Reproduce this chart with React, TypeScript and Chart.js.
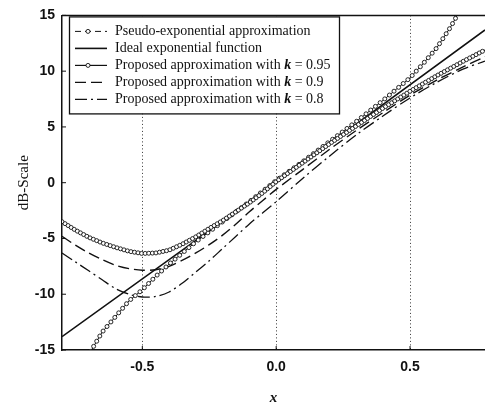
import React, { useEffect, useRef } from "react";
import { Chart, registerables } from "chart.js";

Chart.register(...registerables);

// ---- data ----
const xGrid = [-0.8, -0.75, -0.7, -0.65, -0.6, -0.55, -0.5, -0.45, -0.4, -0.35, -0.3, -0.25, -0.2, -0.15, -0.1, -0.05, 0, 0.1, 0.2, 0.3, 0.4, 0.5, 0.6, 0.7, 0.78];
const k95 = [-3.5, -4.25, -4.9, -5.4, -5.8, -6.15, -6.35, -6.3, -6.05, -5.5, -4.85, -4.1, -3.4, -2.6, -1.8, -0.9, 0.1, 1.8, 3.5, 5.1, 6.7, 8.2, 9.6, 10.9, 11.9];
const k90 = [-4.8, -5.6, -6.3, -6.9, -7.4, -7.7, -7.85, -7.8, -7.5, -6.95, -6.3, -5.55, -4.7, -3.7, -2.6, -1.6, -0.6, 1.2, 3.0, 4.7, 6.3, 7.85, 9.2, 10.4, 11.3];
const k80 = [-6.3, -7.1, -7.9, -8.7, -9.5, -10.0, -10.25, -10.2, -9.8, -9.0, -8.0, -7.0, -5.9, -4.8, -3.7, -2.7, -1.7, 0.4, 2.4, 4.3, 6.0, 7.6, 9.0, 10.2, 10.9];

const xPseudo = [-0.72, -0.69, -0.65, -0.6, -0.55, -0.5, -0.45, -0.4, -0.35, -0.3, -0.2, -0.1, 0, 0.1, 0.2, 0.3, 0.4, 0.45, 0.5, 0.55, 0.6, 0.65, 0.7];
const yPseudo = [-16, -15, -13.4, -12.0, -10.6, -9.6, -8.4, -7.3, -6.3, -5.3, -3.5, -1.7, 0.2, 1.9, 3.7, 5.5, 7.4, 8.4, 9.4, 10.7, 12.1, 13.9, 16];

const xIdeal = [-0.8, 0, 0.78];
const yIdeal = [-13.8, 0, 13.7];

const xTicks = [-0.5, 0, 0.5];
const yMin = -15;
const yMax = 15;
const yStep = 5;
const xMin = -0.8;
const xMax = 0.78;

const labels = [
  "Pseudo-exponential approximation",
  "Ideal exponential function",
  "Proposed approximation with k = 0.95",
  "Proposed approximation with k = 0.9",
  "Proposed approximation with k = 0.8",
];

const pts = (xs: number[], ys: number[]) => xs.map((x, i) => ({ x, y: ys[i] }));

const INK = "#111";
const SERIF = "'Liberation Serif', 'Times New Roman', serif";
const SANS = "'Liberation Sans', Arial, sans-serif";

function drawCircle(ctx: CanvasRenderingContext2D, x: number, y: number, r: number) {
  ctx.beginPath();
  ctx.arc(x, y, r, 0, Math.PI * 2);
  ctx.fillStyle = "#fff";
  ctx.fill();
  ctx.stroke();
}

const gridPlugin = {
  id: "dottedGrid",
  beforeDatasetsDraw(chart: any) {
    const ctx = chart.ctx as CanvasRenderingContext2D;
    const a = chart.chartArea;
    const xs = chart.scales.x;
    ctx.save();
    ctx.strokeStyle = "#333";
    ctx.lineWidth = 1;
    ctx.setLineDash([1, 2.5]);
    xs.ticks.forEach((t: any) => {
      const px = Math.round(xs.getPixelForValue(t.value)) + 0.5;
      ctx.beginPath();
      ctx.moveTo(px, a.top);
      ctx.lineTo(px, a.bottom);
      ctx.stroke();
    });
    ctx.restore();
  },
};

const markerPlugin = {
  id: "denseMarkers",
  afterDatasetsDraw(chart: any) {
    const ctx = chart.ctx as CanvasRenderingContext2D;
    const a = chart.chartArea;
    ctx.save();
    ctx.beginPath();
    ctx.rect(a.left, a.top, a.right - a.left, a.bottom - a.top);
    ctx.clip();
    chart.data.datasets.forEach((ds: any, i: number) => {
      const spacing = ds.markerSpacing;
      if (!spacing) return;
      const els = chart.getDatasetMeta(i).data;
      ctx.lineWidth = 0.9;
      ctx.strokeStyle = INK;
      let carry = 0;
      for (let j = 0; j < els.length - 1; j++) {
        const p = els[j];
        const q = els[j + 1];
        const dx = q.x - p.x;
        const dy = q.y - p.y;
        const len = Math.hypot(dx, dy);
        let t = carry;
        while (t <= len) {
          drawCircle(ctx, p.x + (dx * t) / len, p.y + (dy * t) / len, ds.markerRadius || 2);
          t += spacing;
        }
        carry = t - len;
      }
    });
    ctx.restore();
  },
};

const framePlugin = {
  id: "frameLegend",
  afterDraw(chart: any) {
    const ctx = chart.ctx as CanvasRenderingContext2D;
    const a = chart.chartArea;
    ctx.save();
    // top frame line
    ctx.strokeStyle = INK;
    ctx.lineWidth = 1.5;
    ctx.beginPath();
    ctx.moveTo(a.left, a.top);
    ctx.lineTo(a.right, a.top);
    ctx.stroke();
    // inner tick marks
    ctx.lineWidth = 1;
    const ys = chart.scales.y;
    ys.ticks.forEach((t: any) => {
      const py = ys.getPixelForValue(t.value);
      ctx.beginPath();
      ctx.moveTo(a.left, py);
      ctx.lineTo(a.left + 4, py);
      ctx.stroke();
    });
    const xs = chart.scales.x;
    xs.ticks.forEach((t: any) => {
      const px = xs.getPixelForValue(t.value);
      ctx.beginPath();
      ctx.moveTo(px, a.bottom);
      ctx.lineTo(px, a.bottom - 4);
      ctx.stroke();
    });

    // legend box
    const bx = a.left + 7;
    const by = a.top + 1;
    const bw = 270;
    const bh = 97;
    ctx.fillStyle = "#fff";
    ctx.fillRect(bx, by, bw, bh);
    ctx.lineWidth = 1.3;
    ctx.strokeStyle = INK;
    ctx.strokeRect(bx + 0.5, by + 0.5, bw, bh);

    const rowH = 17;
    chart.data.datasets.forEach((ds: any, i: number) => {
      const cy = by + 15 + i * rowH;
      const x0 = bx + 6;
      const x1 = bx + 38;
      ctx.save();
      ctx.strokeStyle = INK;
      ctx.lineWidth = ds.borderWidth;
      ctx.setLineDash(ds.legendDash || ds.borderDash || []);
      ctx.beginPath();
      ctx.moveTo(x0, cy);
      ctx.lineTo(x1, cy);
      ctx.stroke();
      ctx.setLineDash([]);
      if (ds.markerSpacing) {
        ctx.lineWidth = 0.9;
        drawCircle(ctx, (x0 + x1) / 2 - 3, cy, ds.markerRadius || 2);
      }
      ctx.restore();

      // text
      const text: string = ds.label;
      const tx = bx + 46;
      ctx.fillStyle = INK;
      ctx.textBaseline = "middle";
      ctx.textAlign = "left";
      const m = text.match(/^(.*with )k( = .*)$/);
      const normal = `14px ${SERIF}`;
      if (m) {
        ctx.font = normal;
        ctx.fillText(m[1], tx, cy);
        let w = ctx.measureText(m[1]).width;
        ctx.font = `italic bold 14px ${SERIF}`;
        ctx.fillText("k", tx + w, cy);
        w += ctx.measureText("k").width;
        ctx.font = normal;
        ctx.fillText(m[2], tx + w, cy);
      } else {
        ctx.font = normal;
        ctx.fillText(text, tx, cy);
      }
    });
    ctx.restore();
  },
};

export default function App() {
  const ref = useRef<HTMLCanvasElement | null>(null);

  useEffect(() => {
    document.body.style.margin = "0";
    const canvas = ref.current;
    if (!canvas) return;
    const chart = new Chart(canvas, {
      type: "line",
      data: {
        datasets: [
          {
            label: labels[0],
            data: pts(xPseudo, yPseudo),
            borderColor: INK,
            borderWidth: 1,
            pointRadius: 0,
            tension: 0,
            markerSpacing: 6,
            markerRadius: 2,
            legendDash: [6, 4],
          } as any,
          {
            label: labels[1],
            data: pts(xIdeal, yIdeal),
            borderColor: INK,
            borderWidth: 1.6,
            pointRadius: 0,
            tension: 0,
          },
          {
            label: labels[2],
            data: pts(xGrid, k95),
            borderColor: INK,
            borderWidth: 1.2,
            pointRadius: 0,
            tension: 0,
            markerSpacing: 3.6,
            markerRadius: 2,
          } as any,
          {
            label: labels[3],
            data: pts(xGrid, k90),
            borderColor: INK,
            borderWidth: 1.4,
            borderDash: [11, 5],
            pointRadius: 0,
            tension: 0.3,
          },
          {
            label: labels[4],
            data: pts(xGrid, k80),
            borderColor: INK,
            borderWidth: 1.3,
            borderDash: [12, 4, 2, 4],
            pointRadius: 0,
            tension: 0.3,
          },
        ],
      },
      options: {
        responsive: false,
        animation: false,
        events: [],
        layout: { padding: { top: 12, right: 0, left: 0, bottom: 0 } },
        plugins: {
          legend: { display: false },
          tooltip: { enabled: false },
        },
        scales: {
          x: {
            type: "linear",
            min: xMin,
            max: xMax,
            afterBuildTicks: (scale: any) => {
              scale.ticks = xTicks.map((v) => ({ value: v }));
            },
            afterFit: (scale: any) => {
              scale.height = 57;
            },
            ticks: {
              color: INK,
              font: { family: SANS, size: 14, weight: "bold" },
              padding: 9,
              maxRotation: 0,
              callback: (v: any) => Number(v).toFixed(1),
            },
            grid: { display: true, drawOnChartArea: false, drawTicks: false },
            border: { display: true, color: INK, width: 1.5 },
            title: {
              display: true,
              text: "x",
              color: INK,
              font: { family: SERIF, size: 15, style: "italic", weight: "bold" },
              padding: { top: 0, bottom: 0 },
            },
          },
          y: {
            type: "linear",
            min: yMin,
            max: yMax,
            afterFit: (scale: any) => {
              scale.width = 62;
            },
            ticks: {
              stepSize: yStep,
              color: INK,
              font: { family: SANS, size: 14, weight: "bold" },
              padding: 7,
            },
            grid: { display: true, drawOnChartArea: false, drawTicks: false },
            border: { display: true, color: INK, width: 1.5 },
            title: {
              display: true,
              text: "dB-Scale",
              color: INK,
              font: { family: SERIF, size: 15 },
              padding: { top: 15, bottom: 0 },
            },
          },
        },
      },
      plugins: [gridPlugin, markerPlugin, framePlugin],
    } as any);
    return () => chart.destroy();
  }, []);

  return (
    <div style={{ position: "fixed", left: 0, top: 0, width: 485, height: 407, background: "#fff" }}>
      <canvas ref={ref} width={485} height={407} style={{ display: "block" }} />
    </div>
  );
}
